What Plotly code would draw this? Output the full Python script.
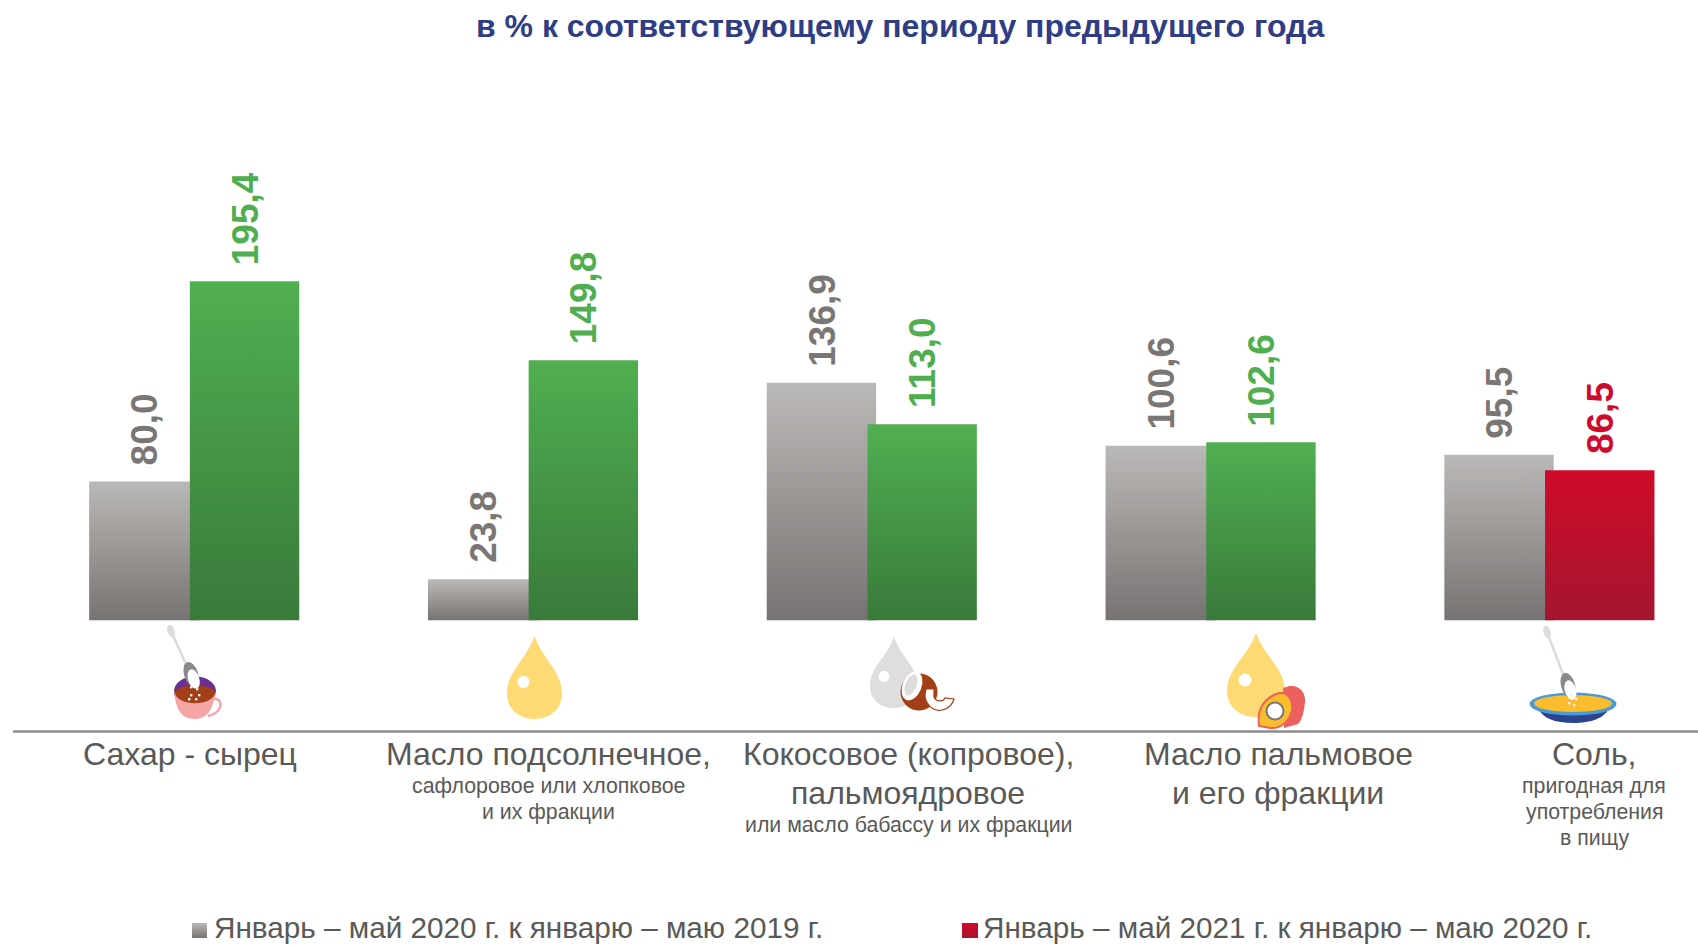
import base64, json
import plotly.graph_objects as go

W, H = 1698, 945
positions = [0, 1, 2, 3, 4]
series_2020 = [80.0, 23.8, 136.9, 100.6, 95.5]
series_2021 = [195.4, 149.8, 113.0, 102.6, 86.5]
labels_2020 = ["80,0", "23,8", "136,9", "100,6", "95,5"]
labels_2021 = ["195,4", "149,8", "113,0", "102,6", "86,5"]
GRAY, GREEN, RED = "#989594", "#459A47", "#BC0F2C"
colors_2021 = [GREEN, GREEN, GREEN, GREEN, RED]
label_colors = {GRAY: "#7A7675", GREEN: "#4FAE50", RED: "#D00A2C"}
gradients = {GRAY: ["#BBB9B7", "#777372"], GREEN: ["#50AF51", "#397A3B"], RED: ["#CF0A2A", "#A4162F"]}

title_text = "в % к соответствующему периоду предыдущего года"
legend_text = ["Январь – май 2020 г. к январю – маю 2019 г.", "Январь – май 2021 г. к январю – маю 2020 г."]
# (text, centre x px, centre y px, size)
big, small = 32, 21.3
caption_lines = [
    ("Сахар - сырец", 190, 754, big),
    ("Масло подсолнечное,", 548, 754, big),
    ("сафлоровое или хлопковое", 548, 785.5, small),
    ("и их фракции", 548, 811.5, small),
    ("Кокосовое (копровое),", 908, 754, big),
    ("пальмоядровое", 908, 793, big),
    ("или масло бабассу и их фракции", 908, 824.5, small),
    ("Масло пальмовое", 1278, 754, big),
    ("и его фракции", 1278, 793, big),
    ("Соль,", 1594, 754, big),
    ("пригодная для", 1594, 785.5, small),
    ("употребления", 1594, 811.5, small),
    ("в пищу", 1594, 837.5, small),
]

# geometry of plot in pixels
base_py, px_per_unit = 620.5, 1.7365
x0_px, pitch, bar_w = 194.2, 338.8, 109.4
offset_gray, offset_new = -105.05 / pitch, -4.35 / pitch


def drop(cx, top, bottom, w, fill):
    h = bottom - top
    return (f'<path fill="{fill}" d="M{cx} {top} C{cx+.32*w} {top+.3*h} {cx+w} {top+.42*h} {cx+w} {top+.7*h} '
            f'C{cx+w} {top+.88*h} {cx+.55*w} {bottom} {cx} {bottom} C{cx-.55*w} {bottom} {cx-w} {top+.88*h} {cx-w} {top+.7*h} '
            f'C{cx-w} {top+.42*h} {cx-.32*w} {top+.3*h} {cx} {top}Z"/>')


def grains(pts):
    return "".join(f'<rect x="{x}" y="{y}" width="2.4" height="2.4" fill="#eee"/>' for x, y in pts)


def spoon(x1, y1, x2, y2, a):
    return (f'<line x1="{x1}" y1="{y1}" x2="{x2}" y2="{y2}" stroke="#DCDCDC" stroke-width="2.6"/>'
            f'<ellipse cx="{x1}" cy="{y1}" rx="3.6" ry="6.5" fill="#DCDCDC" transform="rotate({a} {x1} {y1})"/>'
            f'<ellipse cx="{x2+1}" cy="{y2+4}" rx="7" ry="13" fill="#8A8A8A" transform="rotate({a} {x2} {y2})"/>'
            f'<ellipse cx="{x2+2}" cy="{y2+9}" rx="5.6" ry="10" fill="#fff" transform="rotate({a} {x2} {y2})"/>')


icons = [
    # cup
    '<path d="M206 701 C224 692 226 712 208 716" fill="none" stroke="#F6A5A6" stroke-width="2.4"/>',
    '<ellipse cx="195" cy="691" rx="21" ry="14.5" fill="#6A2F90"/>',
    '<path d="M174 692 C176 708 180 719 195 719 C208 719 213 708 216 692 Z" fill="#F6A5A6"/>',
    '<path d="M174.5 692 C180 683 210 683 215.5 692 C213 707 177 707 174.5 692 Z" fill="#A23F17"/>',
    spoon(171, 631, 189, 671, -18),
    grains([(190, 686), (196, 688), (198, 694), (190, 694), (195, 698), (188, 698)]),
    # sunflower drop
    drop(534.5, 636, 719, 27.5, "#FDDA74"),
    '<ellipse cx="523.5" cy="682" rx="6" ry="6.2" fill="#fff"/>',
    # coconut drop
    drop(894, 637, 708, 24, "#DEDEDE"),
    '<ellipse cx="884" cy="676.5" rx="5.2" ry="5.8" fill="#fff"/>',
    '<ellipse cx="919" cy="692" rx="18.5" ry="18.5" fill="#A23F17" transform="rotate(20 919 692)"/>',
    '<ellipse cx="912" cy="686" rx="9.5" ry="15" fill="#fff" transform="rotate(22 912 686)"/>',
    '<ellipse cx="911" cy="685" rx="5.5" ry="11" fill="#DDD" transform="rotate(22 911 685)"/>',
    '<path d="M926 689 C922 702 932 712 942 710 C949 709 953 703 954 699 L945 698 C943 702 936 702 934 697 L934 689 Z" fill="#fff" stroke="#A23F17" stroke-width="1.2"/>',
    # palm drop
    drop(1256, 633, 717, 29, "#FDDA74"),
    '<ellipse cx="1245" cy="680" rx="6.5" ry="6.5" fill="#fff"/>',
    '<path d="M1283 688 C1296 682 1306 690 1305 702 C1304 712 1302 720 1298 724 L1284 728 Z" fill="#EC6060"/>',
    '<path d="M1259 726 C1257 712 1262 700 1276 694 C1288 690 1293 700 1292 710 C1290 720 1282 729 1270 728 Z" fill="#FBBC2D" stroke="#EC6060" stroke-width="2"/>',
    '<circle cx="1275" cy="711" r="8.5" fill="#fff" stroke="#777" stroke-width="2"/>',
    # salt bowl
    '<path d="M1538 708 C1542 718 1555 723 1573 723 C1591 723 1605 718 1609 708 Z" fill="#2C438E"/>',
    '<ellipse cx="1573" cy="704" rx="43.5" ry="11.5" fill="#4A9AD6"/>',
    '<ellipse cx="1573" cy="703.5" rx="39" ry="8.5" fill="#FBBC2D"/>',
    spoon(1547, 632, 1566, 682, -16),
    grains([(1570, 694), (1575, 698), (1568, 702), (1573, 704)]),
    # legend keys
    '<defs><linearGradient id="kg" x1="0" y1="0" x2="0" y2="1"><stop offset="0" stop-color="#BBB9B7"/><stop offset="1" stop-color="#777372"/></linearGradient>'
    '<linearGradient id="kr" x1="0" y1="0" x2="0" y2="1"><stop offset="0" stop-color="#D5072A"/><stop offset="1" stop-color="#A4162F"/></linearGradient></defs>',
    '<rect x="192" y="923" width="15" height="15" fill="url(#kg)"/>',
    '<rect x="962" y="923" width="16" height="15" fill="url(#kr)"/>',
]
svg = f'<svg xmlns="http://www.w3.org/2000/svg" width="{W}" height="{H}" viewBox="0 0 {W} {H}">' + "".join(icons) + "</svg>"
svg_uri = "data:image/svg+xml;base64," + base64.b64encode(svg.encode()).decode()

fig = go.Figure()
fig.add_bar(x=positions, y=series_2020, width=bar_w / pitch, offset=offset_gray,
            marker=dict(color=[GRAY] * 5, line_width=0), name=legend_text[0])
fig.add_bar(x=positions, y=series_2021, width=bar_w / pitch, offset=offset_new,
            marker=dict(color=colors_2021, line_width=0), name=legend_text[1])

annotations = []
for xi, v, lab in zip(positions, series_2020, labels_2020):
    annotations.append(dict(x=xi + offset_gray + bar_w / pitch / 2, y=v, xref="x", yref="y", text=f"<b>{lab}</b>",
                            textangle=-90, showarrow=False, yanchor="bottom", yshift=14, xshift=1,
                            font=dict(size=37, color=label_colors[GRAY])))
for xi, v, lab, c in zip(positions, series_2021, labels_2021, colors_2021):
    annotations.append(dict(x=xi + offset_new + bar_w / pitch / 2, y=v, xref="x", yref="y", text=f"<b>{lab}</b>",
                            textangle=-90, showarrow=False, yanchor="bottom", yshift=14, xshift=1,
                            font=dict(size=37, color=label_colors[c])))
for t, cx, cy, s in caption_lines:
    annotations.append(dict(x=cx / W, y=1 - cy / H, xref="paper", yref="paper", text=t, showarrow=False,
                            xanchor="center", yanchor="middle", font=dict(size=s, color="#595959")))
annotations.append(dict(x=900 / W, y=1 - 26 / H, xref="paper", yref="paper", text=f"<b>{title_text}</b>", showarrow=False,
                        xanchor="center", yanchor="middle", font=dict(size=32, color="#2E3D85")))
for t, lx in zip(legend_text, [211.5, 981]):
    annotations.append(dict(x=lx / W, y=1 - 927.5 / H, xref="paper", yref="paper", text=t, showarrow=False,
                            xanchor="left", yanchor="middle", font=dict(size=29.7, color="#595959")))

fig.update_layout(
    width=W, height=H, margin=dict(l=0, r=0, t=0, b=0), autosize=False,
    paper_bgcolor="white", plot_bgcolor="white", barmode="overlay", showlegend=False,
    font=dict(family="Liberation Sans, Arial, sans-serif"),
    xaxis=dict(visible=False, range=[-x0_px / pitch, (W - x0_px) / pitch], domain=[0, 1], fixedrange=True),
    yaxis=dict(visible=False, range=[0, base_py / px_per_unit], domain=[1 - base_py / H, 1], fixedrange=True),
    annotations=annotations,
    shapes=[dict(type="line", xref="paper", yref="paper", x0=13 / W, x1=1, y0=1 - 731.5 / H, y1=1 - 731.5 / H,
                 line=dict(color="#8C8C8C", width=2.5))],
    images=[dict(source=svg_uri, xref="paper", yref="paper", x=0, y=1, sizex=1, sizey=1, xanchor="left",
                 yanchor="top", sizing="stretch", layer="above")],
)

post = """
document.body.style.margin = '0';
var gd = document.getElementById('{plot_id}');
var grads = %s;
var svg = gd.querySelector('svg.main-svg');
var ns = 'http://www.w3.org/2000/svg';
var defs = document.createElementNS(ns, 'defs');
Object.keys(grads).forEach(function (k) {
  var g = document.createElementNS(ns, 'linearGradient');
  g.setAttribute('id', 'bar' + k.slice(1));
  g.setAttribute('x1', '0'); g.setAttribute('y1', '0'); g.setAttribute('x2', '0'); g.setAttribute('y2', '1');
  grads[k].forEach(function (c, i) {
    var s = document.createElementNS(ns, 'stop');
    s.setAttribute('offset', String(i)); s.setAttribute('stop-color', c); g.appendChild(s);
  });
  defs.appendChild(g);
});
svg.insertBefore(defs, svg.firstChild);
gd.querySelectorAll('.barlayer .trace.bars').forEach(function (tr, t) {
  tr.querySelectorAll('.point path').forEach(function (p, i) {
    p.style.fill = 'url(#bar' + gd.data[t].marker.color[i].slice(1) + ')';
  });
});
""" % json.dumps(gradients)

fig.write_html("out.html", post_script=post, config=dict(displayModeBar=False))
